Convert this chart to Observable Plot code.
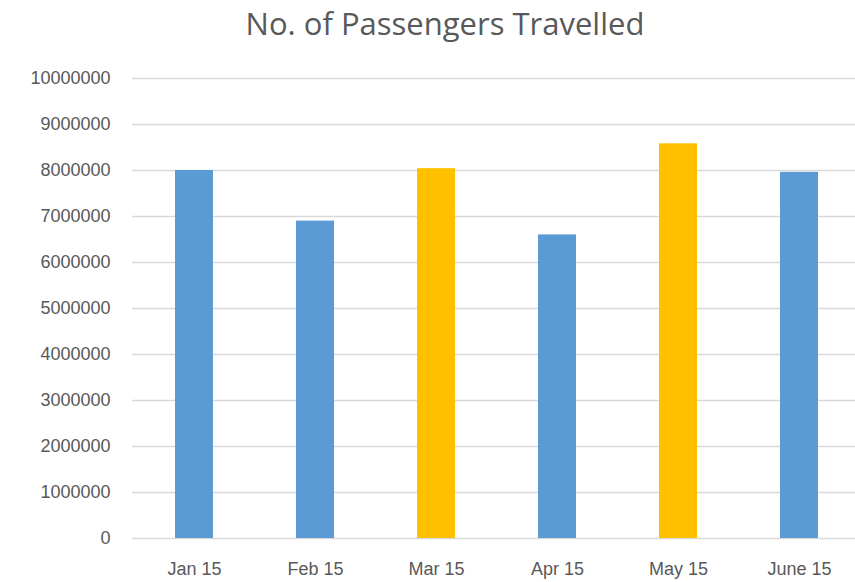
<!DOCTYPE html>
<html>
<head>
<meta charset="utf-8">
<script src="https://cdn.jsdelivr.net/npm/d3@7"></script>
<script src="https://cdn.jsdelivr.net/npm/@observablehq/plot@0.6"></script>
<style>
  html, body { margin: 0; padding: 0; background: #fff; }
  #title { height: 60px; box-sizing: border-box; padding-top: 2px; text-align: center; font-family: "Open Sans", sans-serif; font-size: 31px; color: #595959; line-height: 42px; padding-left: 35px; }
  #chart svg { display: block; }
</style>
</head>
<body>
<div id="title">No. of Passengers Travelled</div>
<div id="chart"></div>
<script>
const months = ["Jan 15", "Feb 15", "Mar 15", "Apr 15", "May 15", "June 15"];
const passengers = [8000000, 6900000, 8040000, 6600000, 8580000, 7960000];
const barColors = ["#5B9BD5", "#5B9BD5", "#FFC000", "#5B9BD5", "#FFC000", "#5B9BD5"];
const yTicks = [0, 1000000, 2000000, 3000000, 4000000, 5000000, 6000000, 7000000, 8000000, 9000000, 10000000];

const data = months.map((m, i) => ({month: m, value: passengers[i], color: barColors[i]}));

const chart = Plot.plot({
  width: 855,
  height: 522,
  marginTop: 18,
  marginBottom: 44,
  marginLeft: 132,
  marginRight: -5,
  style: {fontFamily: "Liberation Sans, sans-serif", fontSize: "18px", color: "#595959"},
  x: {domain: months, paddingInner: 0.686, paddingOuter: 0.343, label: null},
  y: {domain: [0, 10000000], ticks: yTicks, label: null, tickFormat: d => String(d)},
  marks: [
    Plot.gridY(yTicks, {stroke: "#d9d9d9", strokeOpacity: 1, strokeWidth: 1.5}),
    Plot.barY(data, {x: "month", y: "value", fill: "color"}),
    Plot.axisY({ticks: yTicks, tickSize: 0, tickPadding: 22, tickFormat: d => String(d), label: null, fill: "#595959"}),
    Plot.axisX({tickSize: 0, tickPadding: 24, label: null, fill: "#595959"})
  ]
});
document.getElementById("chart").appendChild(chart);
</script>
</body>
</html>
